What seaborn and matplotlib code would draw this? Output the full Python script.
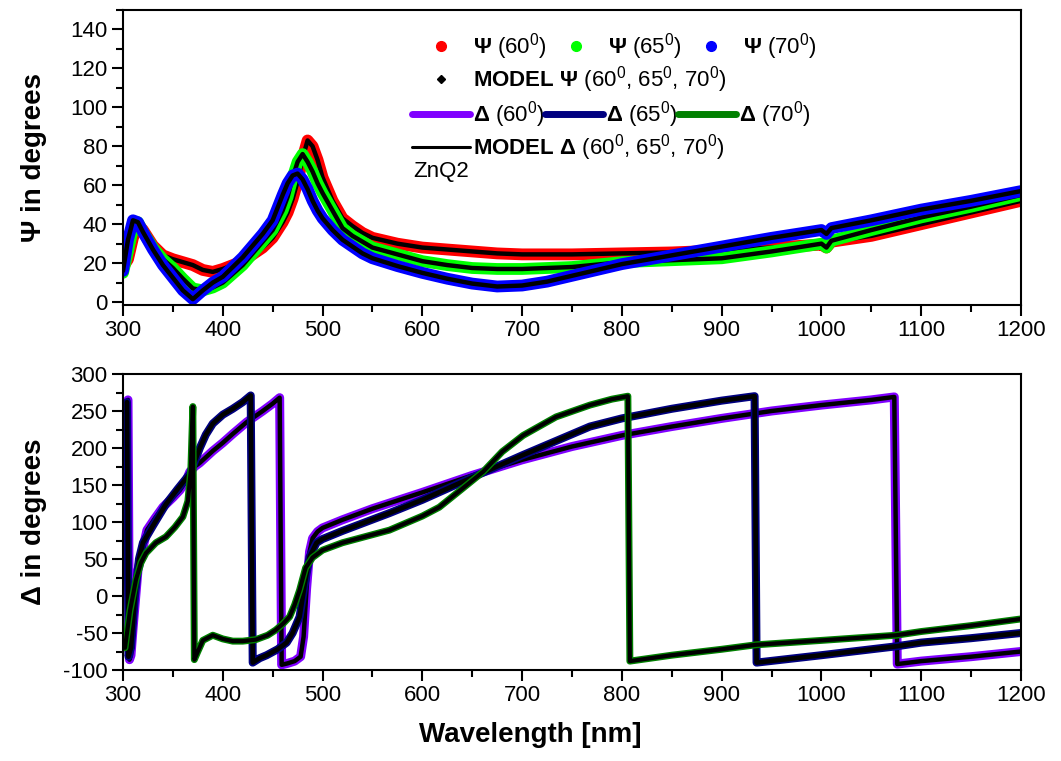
import matplotlib
matplotlib.use("Agg")
import matplotlib.pyplot as plt
from matplotlib.lines import Line2D
from matplotlib.ticker import MultipleLocator
import pandas as pd
import seaborn as sns

# Psi (amplitude ratio), in degrees
psi_wl = [300, 305, 310, 315, 320, 330, 340, 350, 360, 370, 380, 390, 400, 420, 440,
          450, 460, 465, 470, 475, 480, 485, 490, 495, 500, 510, 520, 530, 540, 550,
          575, 600, 625, 650, 675, 700, 725, 750, 800, 850, 900, 950, 1000, 1005, 1010,
          1050, 1100, 1150, 1200]
psi_60 = [18, 22, 33, 40, 37, 29, 24, 22, 20.5, 19, 16.5, 15.5, 17, 21, 28,
          33, 41, 46, 53, 62, 74, 83, 80, 73, 64, 52, 43, 39, 35.5, 33,
          30, 28, 27, 26, 25, 24.5, 24.5, 24.5, 25, 25.5, 26.5, 28, 29.5, 28, 31,
          34, 40, 46, 52]
psi_65 = [15, 26, 38, 41, 36, 28, 22, 17.5, 12, 7, 6, 7.5, 10, 19, 31,
          37, 47, 54, 64, 72, 76, 72, 67, 61, 56, 47, 38, 34, 31, 28,
          24.5, 21, 19, 17.5, 17, 17, 17.5, 18, 20.5, 21.5, 22.5, 26, 30, 28, 31.5,
          37, 43.5, 49, 55]
psi_70 = [16, 32, 42, 41, 36, 27, 19, 12.5, 6, 1.5, 6, 10, 13, 23, 35,
          42, 55, 61, 65, 66, 63, 58, 52, 47, 43, 37, 32, 28.5, 25, 22.5,
          18.5, 15, 12, 9.5, 8, 8.5, 10.5, 13.5, 19.5, 24, 28.5, 33, 37, 35, 38,
          42, 47.5, 52, 57]

# Delta (phase difference), each angle wraps at its own wavelengths
d60_wl = [305, 306.5, 308, 310, 315, 324, 332, 340, 350, 357, 363, 367, 372, 377, 390,
          400, 410, 424, 440, 450, 457, 459, 465, 472, 478, 481, 484, 487, 490, 495,
          500, 520, 550, 600, 650, 700, 750, 800, 850, 900, 950, 1000, 1050, 1073, 1076,
          1100, 1150, 1200]
d60 = [265, -86, -80, -45, 35, 89, 105, 120, 133, 143, 155, 168, 175, 180, 196,
       207, 219, 235, 250, 260, 268, -93, -91, -88, -82, -55, 10, 60, 78, 87,
       92, 103, 118, 140, 163, 184, 202, 217, 229, 240, 250, 258, 265, 269, -92,
       -88, -82, -75]
d65_wl = [304, 305.5, 308, 312, 316, 320, 330, 343, 355, 367, 372, 377, 383, 390, 400,
          410, 420, 428, 430, 437, 444, 455, 464, 470, 477, 482, 487, 494, 500, 520,
          567, 600, 648, 700, 768, 800, 850, 900, 933, 935, 1000, 1075, 1100, 1150, 1200]
d65 = [262, -82, -70, 0, 50, 72, 95, 124, 145, 165, 182, 200, 218, 233, 245,
       253, 262, 271, -90, -84, -80, -72, -63, -50, -28, 15, 53, 72, 77, 88,
       112, 130, 159, 190, 229, 240, 253, 264, 270, -90, -80, -68, -63, -57, -50]
d70_wl = [302, 307, 313, 318, 323, 333, 343, 352, 360, 365, 368, 370, 371.5, 375, 380,
          390, 400, 410, 420, 433, 445, 453, 460, 467, 472, 477, 483, 490, 500, 520,
          567, 600, 617, 640, 661, 680, 701, 734, 768, 790, 806, 808, 850, 900, 934,
          1000, 1075, 1100, 1150, 1200]
d70 = [-70, -20, 22, 45, 58, 72, 80, 93, 107, 128, 170, 256, -86, -75, -60,
       -53, -58, -61, -61, -59, -53, -46, -38, -28, -12, 8, 38, 52, 62, 72,
       89, 108, 120, 145, 168, 195, 217, 242, 258, 266, 270, -88, -80, -72, -66,
       -60, -53, -48, -40, -31]

psi_colors = ["#ff0000", "#00ff00", "#0000ff"]
delta_colors = ["#8000ff", "#000080", "#008000"]

sns.set_style("ticks")
plt.rcParams["font.family"] = ["Liberation Sans", "DejaVu Sans"]
plt.rcParams["mathtext.fontset"] = "custom"
plt.rcParams["mathtext.rm"] = "Liberation Sans"
plt.rcParams["mathtext.bf"] = "Liberation Sans:bold"
plt.rcParams["mathtext.it"] = "Liberation Sans:italic"
plt.rcParams["axes.unicode_minus"] = False
plt.rcParams["axes.edgecolor"] = "black"
plt.rcParams["xtick.color"] = "black"
plt.rcParams["ytick.color"] = "black"
plt.rcParams["text.color"] = "black"
plt.rcParams["axes.labelcolor"] = "black"

W, H = 1061, 761
fig = plt.figure(figsize=(W / 100, H / 100), dpi=100)
ax1 = fig.add_axes([123 / W, 1 - 305 / H, 898 / W, 295 / H])
ax2 = fig.add_axes([123 / W, 1 - 670 / H, 898 / W, 296 / H])

# top panel: measured bands with the model line inside each
psi_df = pd.DataFrame({"wl": psi_wl, "60": psi_60, "65": psi_65, "70": psi_70})
for col, c in zip(["60", "65", "70"], psi_colors):
    sns.lineplot(data=psi_df, x="wl", y=col, ax=ax1, color=c, linewidth=8.5,
                 estimator=None, sort=False, solid_capstyle="round", solid_joinstyle="round")
    sns.lineplot(data=psi_df, x="wl", y=col, ax=ax1, color="black", linewidth=3.2,
                 estimator=None, sort=False, solid_capstyle="round", solid_joinstyle="round")

# bottom panel
delta_sets = [(d60_wl, d60, 6.5, 3.2), (d65_wl, d65, 5.8, 3.4), (d70_wl, d70, 5.0, 3.0)]
for (wl, vals, lw, mlw), c in zip(delta_sets, delta_colors):
    df = pd.DataFrame({"wl": wl, "delta": vals})
    sns.lineplot(data=df, x="wl", y="delta", ax=ax2, color=c, linewidth=lw,
                 estimator=None, sort=False, solid_joinstyle="round")
    sns.lineplot(data=df, x="wl", y="delta", ax=ax2, color="black", linewidth=mlw,
                 estimator=None, sort=False, solid_joinstyle="round")

for ax in (ax1, ax2):
    ax.set_xlim(300, 1200)
    ax.xaxis.set_major_locator(MultipleLocator(100))
    ax.xaxis.set_minor_locator(MultipleLocator(50))
    ax.tick_params(which="major", length=8, width=1.5, direction="out", labelsize=16, pad=3)
    ax.tick_params(which="minor", length=5, width=1.5, direction="out")
    for s in ax.spines.values():
        s.set_linewidth(1.5)
    ax.set_xlabel("")

ax1.set_ylim(-1.5, 150)
ax1.yaxis.set_major_locator(MultipleLocator(20))
ax1.yaxis.set_minor_locator(MultipleLocator(10))
ax1.set_ylabel("Ψ in degrees", fontsize=20, fontweight="bold")
ax1.yaxis.set_label_coords(-0.085, 0.5)

ax2.set_ylim(-100, 300)
ax2.yaxis.set_major_locator(MultipleLocator(50))
ax2.yaxis.set_minor_locator(MultipleLocator(25))
ax2.set_ylabel("Δ in degrees", fontsize=20, fontweight="bold")
ax2.yaxis.set_label_coords(-0.085, 0.5)
ax2.set_xlabel("Wavelength [nm]", fontsize=20, fontweight="bold")
ax2.xaxis.set_label_coords(0.453, -0.175)

# legend, built row by row like the original
deg = "$^0$"
rows = [
    ([Line2D([], [], ls="none", marker="o", ms=7, color=c) for c in psi_colors],
     [r"$\mathbf{\Psi}$ (%s%s)" % (a, deg) for a in ("60", "65", "70")], 47),
    ([Line2D([], [], ls="none", marker="D", ms=4, color="black")],
     [r"$\mathbf{MODEL}$ $\mathbf{\Psi}$ (60%s, 65%s, 70%s)" % (deg, deg, deg)], 80),
    ([Line2D([], [], lw=5, color=c, solid_capstyle="round") for c in delta_colors],
     [r"$\mathbf{\Delta}$ (%s%s)" % (a, deg) for a in ("60", "65", "70")], 115),
    ([Line2D([], [], lw=2.2, color="black")],
     [r"$\mathbf{MODEL}$ $\mathbf{\Delta}$ (60%s, 65%s, 70%s)" % (deg, deg, deg)], 148),
]
for handles, labels, y in rows:
    fig.legend(handles, labels, loc="center left", bbox_to_anchor=(412 / W, 1 - y / H),
               ncol=len(handles), frameon=False, fontsize=16, handlelength=2.6,
               handletextpad=0.15, columnspacing=0.0, borderpad=0, borderaxespad=0)
fig.text(413 / W, 1 - 172 / H, "ZnQ2", fontsize=16, va="center", ha="left")

fig.savefig("out.png", dpi=100)
